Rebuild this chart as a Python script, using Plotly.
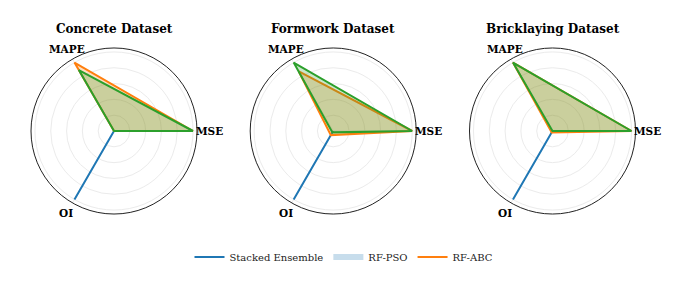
import math
import plotly.graph_objects as go

# ---- data ----
axes_labels = ["MSE", "MAPE", "OI"]
datasets = ["Concrete Dataset", "Formwork Dataset", "Bricklaying Dataset"]
legend_names = ["Stacked Ensemble", "RF-PSO", "RF-ABC"]

# normalized metric values [MSE, MAPE, OI] per dataset
blue_vals = [[0.0, 0.0, 1.0], [0.0, 0.0, 1.0], [0.0, 0.0, 1.0]]
orange_vals = [[1.0, 1.0, 0.0], [1.0, 0.87, 0.06], [1.0, 1.0, 0.02]]
green_vals = [[1.0, 0.89, 0.0], [1.0, 1.0, 0.02], [1.0, 1.0, 0.0]]

BLUE = "#1f77b4"
ORANGE = "#ff7f0e"
GREEN = "#2ca02c"

# page body has an 8px margin; figure sized to fit the window
OFF = 8
W, H = 679 - OFF, 286 - OFF


def px_x(x):
    return (x - OFF) / W


def px_y(y):
    return 1 - (y - OFF) / H


centers_x = [114, 333.2, 552.5]
center_y = 131
R = 83
LABEL_PX = 95

fig = go.Figure()


def closed(v):
    return list(v) + [v[0]]


theta = closed(axes_labels)

for i in range(3):
    sp = "polar" if i == 0 else f"polar{i+1}"
    first = i == 0
    fig.add_trace(go.Scatterpolar(r=closed(blue_vals[i]), theta=theta, mode="lines",
                                  line=dict(color=BLUE, width=2), name=legend_names[0],
                                  showlegend=first, legendrank=1, subplot=sp))
    fig.add_trace(go.Scatterpolar(r=closed(blue_vals[i]), theta=theta, mode="none",
                                  fill="toself", fillcolor="rgba(31,119,180,0.25)",
                                  name=legend_names[1], showlegend=first, legendrank=2,
                                  subplot=sp))
    fig.add_trace(go.Scatterpolar(r=closed(orange_vals[i]), theta=theta, mode="lines",
                                  line=dict(color=ORANGE, width=2), name=legend_names[2],
                                  showlegend=first, legendrank=3, subplot=sp))
    fig.add_trace(go.Scatterpolar(r=closed(orange_vals[i]), theta=theta, mode="none",
                                  fill="toself", fillcolor="rgba(255,127,14,0.25)",
                                  showlegend=False, subplot=sp))
    fig.add_trace(go.Scatterpolar(r=closed(green_vals[i]), theta=theta, mode="lines",
                                  line=dict(color=GREEN, width=2),
                                  showlegend=False, subplot=sp))
    fig.add_trace(go.Scatterpolar(r=closed(green_vals[i]), theta=theta, mode="none",
                                  fill="toself", fillcolor="rgba(44,160,44,0.25)",
                                  showlegend=False, subplot=sp))

layout = dict(
    width=W, height=H,
    margin=dict(l=0, r=0, t=0, b=0),
    paper_bgcolor="white", plot_bgcolor="white",
    font=dict(family="DejaVu Serif", color="#000000"),
    legend=dict(orientation="h", x=px_x(344), y=px_y(257), xanchor="center", yanchor="middle",
                font=dict(family="DejaVu Serif", size=10, color="#222222"),
                itemwidth=30, bgcolor="rgba(0,0,0,0)"),
    annotations=[],
)

n = len(axes_labels)
for i in range(3):
    key = "polar" if i == 0 else f"polar{i+1}"
    cx = centers_x[i]
    layout[key] = dict(
        domain=dict(x=[px_x(cx - R), px_x(cx + R)],
                    y=[px_y(center_y + R), px_y(center_y - R)]),
        bgcolor="white",
        radialaxis=dict(range=[0, 1.05], tickvals=[0.2, 0.4, 0.6, 0.8, 1.0],
                        showticklabels=False, ticks="", showline=False,
                        gridcolor="#ebebeb", gridwidth=0.8),
        angularaxis=dict(direction="counterclockwise", rotation=0, type="category",
                         categoryarray=axes_labels, showline=True, linecolor="#222222",
                         linewidth=1, gridcolor="#ebebeb", ticks="", showticklabels=False),
    )
    layout["annotations"].append(dict(
        text="<b>" + datasets[i] + "</b>", x=px_x(cx), y=px_y(29), xref="paper", yref="paper",
        showarrow=False, xanchor="center", yanchor="middle",
        font=dict(family="DejaVu Serif", size=12, color="#000000")))
    # axis labels centred just outside the circle, along each spoke
    for k, lab in enumerate(axes_labels):
        ang = 2 * math.pi * k / n
        lx = cx + LABEL_PX * math.cos(ang)
        ly = center_y - LABEL_PX * math.sin(ang)
        layout["annotations"].append(dict(
            text="<b>" + lab + "</b>", x=px_x(lx), y=px_y(ly), xref="paper", yref="paper",
            showarrow=False, xanchor="center", yanchor="middle",
            font=dict(family="DejaVu Serif", size=10.5, color="#000000")))

fig.update_layout(**layout)
fig.write_html("out.html")
